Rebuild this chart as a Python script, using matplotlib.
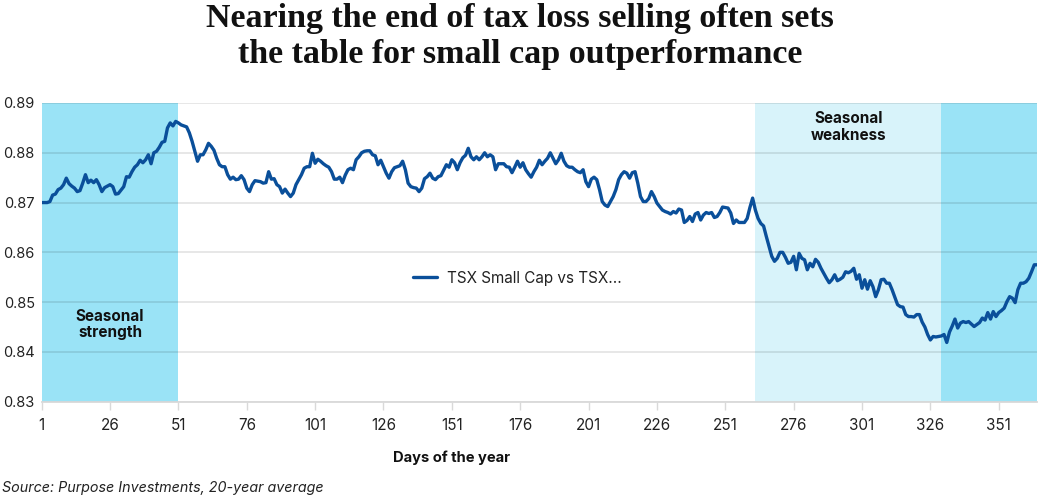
import matplotlib
matplotlib.use("Agg")
import matplotlib.pyplot as plt
import numpy as np

# ---- data ----
days = list(range(1, 366))
ratio = [
    0.8700, 0.8700, 0.8700, 0.8702, 0.8715, 0.8717, 0.8726, 0.8729, 0.8736, 0.8749,
    0.8738, 0.8733, 0.8729, 0.8722, 0.8724, 0.8739, 0.8756, 0.8740, 0.8745, 0.8740,
    0.8746, 0.8736, 0.8722, 0.8730, 0.8733, 0.8736, 0.8732, 0.8717, 0.8718, 0.8725,
    0.8732, 0.8752, 0.8751, 0.8762, 0.8771, 0.8776, 0.8785, 0.8780, 0.8786, 0.8796,
    0.8778, 0.8800, 0.8803, 0.8811, 0.8821, 0.8823, 0.8850, 0.8860, 0.8854, 0.8863,
    0.8860, 0.8856, 0.8854, 0.8852, 0.8840, 0.8823, 0.8803, 0.8783, 0.8796, 0.8796,
    0.8806, 0.8819, 0.8813, 0.8805, 0.8789, 0.8776, 0.8772, 0.8772, 0.8756, 0.8747,
    0.8751, 0.8746, 0.8747, 0.8754, 0.8746, 0.8729, 0.8722, 0.8736, 0.8744, 0.8743,
    0.8742, 0.8739, 0.8740, 0.8762, 0.8747, 0.8748, 0.8736, 0.8732, 0.8719, 0.8727,
    0.8719, 0.8712, 0.8719, 0.8736, 0.8746, 0.8756, 0.8769, 0.8772, 0.8772, 0.8799,
    0.8779, 0.8787, 0.8783, 0.8778, 0.8774, 0.8771, 0.8762, 0.8747, 0.8747, 0.8751,
    0.8740, 0.8755, 0.8766, 0.8769, 0.8766, 0.8786, 0.8792, 0.8800, 0.8803, 0.8804,
    0.8804, 0.8796, 0.8794, 0.8776, 0.8785, 0.8772, 0.8759, 0.8749, 0.8762, 0.8770,
    0.8772, 0.8774, 0.8783, 0.8766, 0.8739, 0.8732, 0.8730, 0.8729, 0.8722, 0.8729,
    0.8748, 0.8752, 0.8759, 0.8749, 0.8746, 0.8752, 0.8754, 0.8765, 0.8776, 0.8771,
    0.8786, 0.8780, 0.8766, 0.8780, 0.8790, 0.8795, 0.8809, 0.8792, 0.8786, 0.8792,
    0.8786, 0.8792, 0.8800, 0.8792, 0.8796, 0.8792, 0.8766, 0.8778, 0.8778, 0.8778,
    0.8772, 0.8771, 0.8760, 0.8771, 0.8783, 0.8771, 0.8780, 0.8766, 0.8758, 0.8751,
    0.8762, 0.8771, 0.8785, 0.8776, 0.8783, 0.8789, 0.8800, 0.8789, 0.8778, 0.8786,
    0.8799, 0.8783, 0.8774, 0.8771, 0.8771, 0.8766, 0.8762, 0.8760, 0.8766, 0.8742,
    0.8732, 0.8747, 0.8751, 0.8746, 0.8726, 0.8702, 0.8695, 0.8692, 0.8702, 0.8712,
    0.8726, 0.8746, 0.8756, 0.8762, 0.8759, 0.8749, 0.8760, 0.8762, 0.8739, 0.8712,
    0.8702, 0.8702, 0.8708, 0.8722, 0.8712, 0.8699, 0.8692, 0.8685, 0.8682, 0.8680,
    0.8677, 0.8682, 0.8679, 0.8687, 0.8685, 0.8660, 0.8664, 0.8672, 0.8662, 0.8677,
    0.8680, 0.8665, 0.8675, 0.8680, 0.8678, 0.8680, 0.8670, 0.8672, 0.8680, 0.8691,
    0.8690, 0.8689, 0.8679, 0.8658, 0.8665, 0.8660, 0.8660, 0.8660, 0.8668, 0.8690,
    0.8709, 0.8685, 0.8668, 0.8658, 0.8653, 0.8632, 0.8612, 0.8592, 0.8582, 0.8588,
    0.8600, 0.8600, 0.8590, 0.8578, 0.8580, 0.8592, 0.8565, 0.8598, 0.8588, 0.8585,
    0.8565, 0.8578, 0.8571, 0.8586, 0.8580, 0.8568, 0.8558, 0.8548, 0.8539, 0.8545,
    0.8555, 0.8543, 0.8546, 0.8550, 0.8561, 0.8559, 0.8562, 0.8568, 0.8546, 0.8555,
    0.8528, 0.8545, 0.8526, 0.8543, 0.8531, 0.8511, 0.8525, 0.8545, 0.8546, 0.8538,
    0.8538, 0.8525, 0.8510, 0.8495, 0.8491, 0.8490, 0.8475, 0.8471, 0.8471, 0.8470,
    0.8475, 0.8475, 0.8460, 0.8450, 0.8435, 0.8424, 0.8431, 0.8430, 0.8431, 0.8432,
    0.8435, 0.8419, 0.8440, 0.8452, 0.8466, 0.8448, 0.8458, 0.8461, 0.8459, 0.8461,
    0.8456, 0.8451, 0.8455, 0.8459, 0.8468, 0.8464, 0.8479, 0.8466, 0.8481, 0.8471,
    0.8479, 0.8483, 0.8488, 0.8501, 0.8511, 0.8508, 0.8499, 0.8525, 0.8538, 0.8538,
    0.8541, 0.8548, 0.8561, 0.8575, 0.8575,
]
series_label = "TSX Small Cap vs TSX..."
x_ticks = [1, 26, 51, 76, 101, 126, 151, 176, 201, 226, 251, 276, 301, 326, 351]
y_ticks = [0.83, 0.84, 0.85, 0.86, 0.87, 0.88, 0.89]
strength_bands = [(1, 51), (330, 365)]
weakness_band = (262, 330)

title_lines = ["Nearing the end of tax loss selling often sets",
               "the table for small cap outperformance"]
x_label = "Days of the year"
source = "Source: Purpose Investments, 20-year average"

# ---- style ----
body_font = ["Inter", "DejaVu Sans"]
plt.rcParams["font.family"] = body_font
W, H = 1040, 498
fig = plt.figure(figsize=(W / 100, H / 100), dpi=100)
ax = fig.add_axes([41.7 / W, 1 - 401.7 / H, (1037 - 41.7) / W, (401.7 - 103) / H])

dark_band = "#9ae3f6"
light_band = "#d8f3fa"
line_col = "#0a4f9a"

for a, b in strength_bands:
    ax.axvspan(a, b, color=dark_band, lw=0, zorder=0.8)
ax.axvspan(weakness_band[0], weakness_band[1], color=light_band, lw=0, zorder=0.8)

ax.plot(days, ratio, color=line_col, lw=2.4, label=series_label, zorder=3,
        solid_joinstyle="round", solid_capstyle="round")

ax.set_xlim(1, 365)
ax.set_ylim(0.83, 0.89)
ax.set_xticks(x_ticks)
ax.set_yticks(y_ticks)
ax.set_yticklabels([f"{v:.2f}" for v in y_ticks])
ax.set_axisbelow("line")
ax.grid(axis="y", color="black", alpha=0.1, lw=1.3)
ax.grid(axis="x", visible=False)
for s in ["left", "right", "top"]:
    ax.spines[s].set_visible(False)
ax.spines["bottom"].set_color("#d9d9d9")
ax.spines["bottom"].set_linewidth(1.3)
ax.tick_params(axis="y", length=0, pad=5, labelsize=10.5, labelcolor="#222222")
ax.tick_params(axis="x", length=6, width=1, color="#d9d9d9", pad=6,
               labelsize=11, labelcolor="#222222")

# annotations
ax.text(26, 0.8455, "Seasonal\nstrength", ha="center", va="center",
        fontsize=11, fontweight="bold", color="#111111", linespacing=1.15)
ax.text(296, 0.8852, "Seasonal\nweakness", ha="center", va="center",
        fontsize=11, fontweight="bold", color="#111111", linespacing=1.15)

# legend
fig.legend(loc="center left", bbox_to_anchor=(413 / W, 1 - 278 / H), frameon=False,
           fontsize=11, handlelength=1.6, handletextpad=0.6, borderpad=0,
           borderaxespad=0, labelcolor="#222222")

# titles / labels
for i, line in enumerate(title_lines):
    fig.text(0.5, 1 - (19 + 36 * i) / H, line, ha="center", va="center",
             family=["Liberation Serif", "DejaVu Serif"], fontweight="bold",
             fontsize=24.5, color="#111111")
fig.text(452 / W, 1 - 458 / H, x_label, ha="center", va="center",
         fontsize=10.6, fontweight="bold", color="#111111")
fig.text(2 / W, 1 - 488 / H, source, ha="left", va="center",
         fontsize=10.3, style="italic", color="#222222")

fig.savefig("out.png", dpi=100)
